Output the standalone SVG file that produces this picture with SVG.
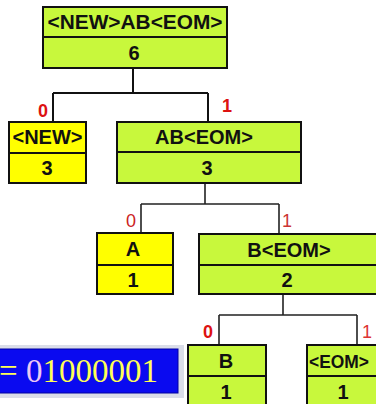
<svg xmlns="http://www.w3.org/2000/svg" width="376" height="404" viewBox="0 0 376 404">
  <style>
    .lime { fill: #c8f83c; stroke: #111; stroke-width: 2; }
    .yel { fill: #ffff00; stroke: #111; stroke-width: 2; }
    .div { stroke: #111; stroke-width: 2; }
    .lbl { font-family: "Liberation Sans", Arial, sans-serif; font-size: 20px; font-weight: bold; fill: #111; text-anchor: middle; }
    .bit { font-family: "Liberation Sans", Arial, sans-serif; font-size: 18px; font-weight: bold; fill: #dd1111; text-anchor: middle; }
    .wire { fill: none; stroke: #111; stroke-width: 2; }
    .wire2 { fill: none; stroke: #222; stroke-width: 1.6; }
  </style>
  <rect width="376" height="404" fill="#ffffff"/>

  <!-- tree edges -->
  <g id="connectors">
    <path class="wire" d="M133 68 V93 M53 93 H208 M53 93 V122 M208 93 V122"/>
    <path class="wire2" d="M205 183 V204 M141 204 H279 M141 204 V233 M279 204 V234"/>
    <path class="wire2" d="M283 294 V315 M219 315 H357 M219 315 V345 M357 315 V345"/>
    <text class="bit" x="43" y="117">0</text>
    <text class="bit" x="227" y="112">1</text>
    <text class="bit" x="131" y="227" style="font-weight:normal;fill:#cc2222">0</text>
    <text class="bit" x="287" y="227" style="font-weight:normal;fill:#cc3333">1</text>
    <text class="bit" x="208" y="338">0</text>
    <text class="bit" x="367" y="338" style="font-weight:normal;fill:#dd3333">1</text>
  </g>

  <g id="root">
    <rect class="lime" x="43" y="7" width="184" height="61"/>
    <line class="div" x1="43" y1="37" x2="227" y2="37"/>
    <text class="lbl" x="135" y="29" textLength="175" lengthAdjust="spacingAndGlyphs">&lt;NEW&gt;AB&lt;EOM&gt;</text>
    <text class="lbl" x="134" y="60">6</text>
  </g>

  <g id="node-new">
    <rect class="yel" x="9" y="122" width="77" height="61"/>
    <line class="div" x1="9" y1="153" x2="86" y2="153"/>
    <text class="lbl" x="47.5" y="144">&lt;NEW&gt;</text>
    <text class="lbl" x="47" y="175">3</text>
  </g>

  <g id="node-ab-eom">
    <rect class="lime" x="117" y="122" width="184" height="61"/>
    <line class="div" x1="117" y1="152" x2="301" y2="152"/>
    <text class="lbl" x="204" y="144">AB&lt;EOM&gt;</text>
    <text class="lbl" x="207" y="175">3</text>
  </g>

  <g id="node-a">
    <rect class="yel" x="97" y="233" width="76" height="61"/>
    <line class="div" x1="97" y1="265" x2="173" y2="265"/>
    <text class="lbl" x="133" y="256">A</text>
    <text class="lbl" x="133" y="287">1</text>
  </g>

  <g id="node-b-eom">
    <rect class="lime" x="199" y="234" width="190" height="60"/>
    <line class="div" x1="199" y1="265" x2="389" y2="265"/>
    <text class="lbl" x="289" y="257">B&lt;EOM&gt;</text>
    <text class="lbl" x="287" y="287">2</text>
  </g>

  <g id="node-b">
    <rect class="lime" x="188" y="345" width="78" height="70"/>
    <line class="div" x1="188" y1="376" x2="266" y2="376"/>
    <text class="lbl" x="226" y="368">B</text>
    <text class="lbl" x="226" y="399">1</text>
  </g>

  <g id="node-eom">
    <rect class="lime" x="307" y="345" width="90" height="70"/>
    <line class="div" x1="307" y1="376" x2="397" y2="376"/>
    <text class="lbl" x="309" y="368" style="text-anchor:start;font-size:18px" textLength="60" lengthAdjust="spacingAndGlyphs">&lt;EOM&gt;</text>
    <text class="lbl" x="343" y="399">1</text>
  </g>

  <!-- encoded bit string -->
  <g id="code">
    <rect x="-6" y="345" width="190" height="53" fill="#dadde9"/>
    <rect x="-6" y="349" width="184" height="44" fill="#0a0af0" stroke="#0000a0" stroke-width="1"/>
    <text x="-1" y="382" font-family="'Liberation Serif', 'Times New Roman', serif" font-size="33" fill="#ffff55">= <tspan fill="#ecc8f4">0</tspan>1000001</text>
  </g>
</svg>
